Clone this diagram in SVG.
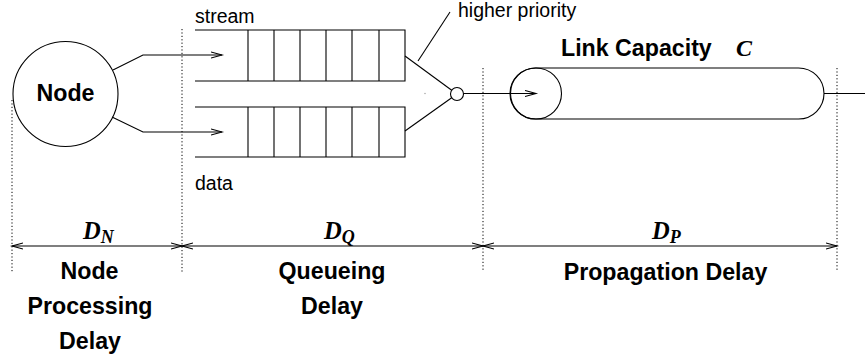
<svg xmlns="http://www.w3.org/2000/svg" width="865" height="356" viewBox="0 0 865 356">
  <style>
    .ln { fill: none; stroke: #000; stroke-width: 1.1; }
    .dot { fill: none; stroke: #000; stroke-width: 1; stroke-dasharray: 1.2 2.2; }
    .lbl { font-family: "Liberation Sans", Arial, sans-serif; font-size: 19.5px; fill: #000; }
    .bold { font-family: "Liberation Sans", Arial, sans-serif; font-weight: bold; font-size: 23.2px; fill: #000; }
    .math { font-family: "Liberation Serif", "Times New Roman", serif; font-weight: bold; font-style: italic; fill: #000; }
  </style>
  <defs>
    <marker id="arr" markerUnits="userSpaceOnUse" markerWidth="14" markerHeight="10" refX="11" refY="4" orient="auto-start-reverse">
      <path d="M0,1 L11,4 L0,7" fill="none" stroke="#000" stroke-width="1.1"/>
    </marker>
  </defs>

  <rect width="865" height="356" fill="#fff"/>

  <!-- section boundaries -->
  <g id="boundaries">
    <line class="dot" x1="12" y1="100" x2="12" y2="272"/>
    <line class="dot" x1="182" y1="29" x2="182" y2="272"/>
    <line class="dot" x1="483" y1="68" x2="483" y2="272"/>
    <line class="dot" x1="837" y1="68" x2="837" y2="272"/>
  </g>

  <!-- source node -->
  <g id="node">
    <circle class="ln" cx="65.5" cy="94" r="52.5"/>
    <text class="bold" x="65.5" y="101" text-anchor="middle">Node</text>
  </g>

  <!-- stream queue -->
  <g id="queue-stream">
    <path class="ln" d="M195,30 H405 V81 H195 M248,30 V81 M274,30 V81 M300,30 V81 M326,30 V81 M352,30 V81 M379,30 V81"/>
    <text class="lbl" x="195" y="23">stream</text>
  </g>

  <!-- data queue -->
  <g id="queue-data">
    <path class="ln" d="M195,107 H405 V157 H195 M248,107 V157 M274,107 V157 M300,107 V157 M326,107 V157 M352,107 V157 M379,107 V157"/>
    <text class="lbl" x="195" y="190">data</text>
  </g>

  <!-- priority multiplexer -->
  <g id="mux">
    <circle class="ln" cx="457" cy="94" r="6.5"/>
    <circle cx="425" cy="93.5" r="0.7" fill="#999"/>
    <text class="lbl" x="458" y="17">higher priority</text>
  </g>

  <!-- transmission link -->
  <g id="link">
    <rect class="ln" x="510" y="68" width="314" height="51" rx="25.5" ry="25.5"/>
    <circle class="ln" cx="536" cy="93.5" r="25.5"/>
    <text class="bold" x="561" y="56">Link Capacity</text>
    <text class="math" x="736" y="56" font-size="24">C</text>
  </g>

  <!-- connectors -->
  <g id="connectors">
    <polyline class="ln" points="113,70 143,55 222,55" marker-end="url(#arr)"/>
    <polyline class="ln" points="112,117 143,132 222,132" marker-end="url(#arr)"/>
    <line class="ln" x1="405" y1="56" x2="451.7" y2="90.2"/>
    <line class="ln" x1="405" y1="131" x2="451.7" y2="97.8"/>
    <line class="ln" x1="418" y1="61" x2="450" y2="12"/>
    <line class="ln" x1="463.5" y1="93.5" x2="536" y2="93.5" marker-end="url(#arr)"/>
    <line class="ln" x1="824" y1="93.5" x2="865" y2="93.5"/>
  </g>

  <!-- delay spans -->
  <g id="spans">
    <line class="ln" x1="12" y1="246" x2="182" y2="246" marker-start="url(#arr)" marker-end="url(#arr)"/>
    <line class="ln" x1="182" y1="246" x2="483" y2="246" marker-start="url(#arr)" marker-end="url(#arr)"/>
    <line class="ln" x1="483" y1="246" x2="837" y2="246" marker-start="url(#arr)" marker-end="url(#arr)"/>
  </g>

  <g id="span-node">
    <text class="math" x="83" y="239" font-size="24.5">D<tspan font-size="18" dy="4">N</tspan></text>
    <text class="bold" x="89.5" y="279" text-anchor="middle">Node</text>
    <text class="bold" x="90" y="314" text-anchor="middle">Processing</text>
    <text class="bold" x="90" y="349" text-anchor="middle">Delay</text>
  </g>

  <g id="span-queue">
    <text class="math" x="324" y="239" font-size="24.5">D<tspan font-size="18" dy="4">Q</tspan></text>
    <text class="bold" x="332" y="279" text-anchor="middle">Queueing</text>
    <text class="bold" x="332" y="314" text-anchor="middle">Delay</text>
  </g>

  <g id="span-propagation">
    <text class="math" x="652" y="239" font-size="24.5">D<tspan font-size="18" dy="4">P</tspan></text>
    <text class="bold" x="665.5" y="280" text-anchor="middle">Propagation Delay</text>
  </g>
</svg>
